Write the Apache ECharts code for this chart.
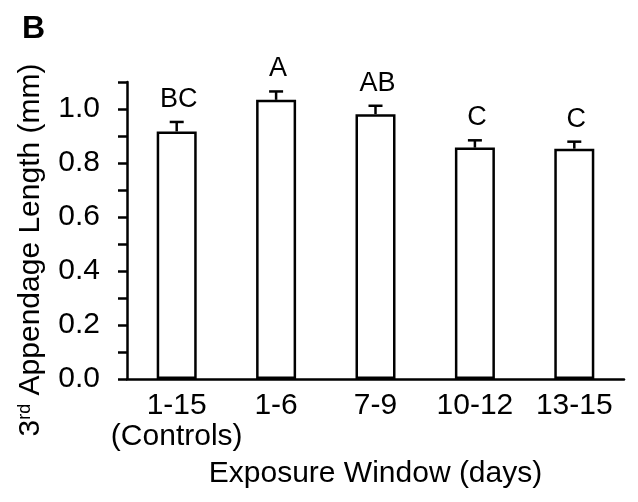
<!DOCTYPE html>
<html><head><meta charset="utf-8">
<script src="https://cdn.jsdelivr.net/npm/echarts@6/dist/echarts.min.js"></script>
<style>html,body{margin:0;padding:0;background:#fff}#c{width:638px;height:502px}</style>
</head><body><div id="c"></div>
<script>
const categories = ['1-15\n(Controls)', '1-6', '7-9', '10-12', '13-15'];
const means = [0.917, 1.034, 0.981, 0.857, 0.853];
const errors = [0.035, 0.031, 0.031, 0.027, 0.026];
const letters = ['BC', 'A', 'AB', 'C', 'C'];
const yMin = 0, yMax = 1.1, yStep = 0.1;
const xTitle = 'Exposure Window (days)';
const panelLabel = 'B';

const FF = '"Liberation Sans", Arial, sans-serif';
const chart = echarts.init(document.getElementById('c'), null, {renderer: 'canvas'});
const LW = 2.5;
chart.setOption({
  animation: false,
  backgroundColor: '#fff',
  grid: {left: 127, right: 14, top: 82, bottom: 123},
  xAxis: {
    type: 'category', data: categories,
    axisLine: {lineStyle: {color: '#000', width: LW}},
    axisTick: {alignWithLabel: true, length: 6, lineStyle: {color: '#000', width: LW}},
    axisLabel: {color: '#000', fontSize: 30, fontFamily: FF, margin: 11, lineHeight: 31, interval: 0},
    name: xTitle, nameLocation: 'middle', nameGap: 80,
    nameTextStyle: {color: '#000', fontSize: 30, fontFamily: FF}
  },
  yAxis: {
    type: 'value', min: yMin, max: yMax, interval: yStep,
    splitLine: {show: false},
    axisLine: {show: true, lineStyle: {color: '#000', width: LW}},
    axisTick: {show: true, length: 9, lineStyle: {color: '#000', width: LW}},
    axisLabel: {color: '#000', fontSize: 30, fontFamily: FF, margin: 27,
      formatter: v => (Math.round(v * 10) % 2 === 0 && v < 1.05) ? v.toFixed(1) : ''}
  },
  graphic: [
    {type: 'text', left: 22, top: 13, style: {text: panelLabel, fontSize: 32, fontWeight: 'bold', fontFamily: FF, fill: '#000'}},
    {type: 'text', x: 31, y: 250, rotation: Math.PI / 2,
      style: {text: '{n|3}{s|rd}{n| Appendage Length (mm)}', align: 'center', verticalAlign: 'middle',
        rich: {n: {fontSize: 30, fontFamily: FF, fill: '#000', color: '#000'},
               s: {fontSize: 18, fontFamily: FF, fill: '#000', color: '#000', verticalAlign: 'top', padding: [0, 0, 12, 0]}}}}
  ],
  series: [
    {type: 'bar', data: means, barWidth: 40,
      itemStyle: {color: '#fff', borderColor: '#000', borderWidth: LW}, z: 2},
    {type: 'custom', z: 3,
      data: means.map((m, i) => [i, m, m + errors[i]]),
      renderItem: function (params, api) {
        const i = api.value(0);
        const p0 = api.coord([i, api.value(1)]);
        const p1 = api.coord([i, api.value(2)]);
        const cw = 7;
        return {type: 'group', children: [
          {type: 'line', shape: {x1: p0[0], y1: p0[1], x2: p1[0], y2: p1[1]}, style: {stroke: '#000', lineWidth: LW}},
          {type: 'line', shape: {x1: p1[0] - cw, y1: p1[1], x2: p1[0] + cw, y2: p1[1]}, style: {stroke: '#000', lineWidth: LW}},
          {type: 'text', x: p1[0] + 2, y: p1[1] - 9,
            style: {text: letters[params.dataIndex], fontSize: 27, fontFamily: FF, fill: '#000', align: 'center', verticalAlign: 'bottom'}}
        ]};
      }}
  ]
});
</script></body></html>
